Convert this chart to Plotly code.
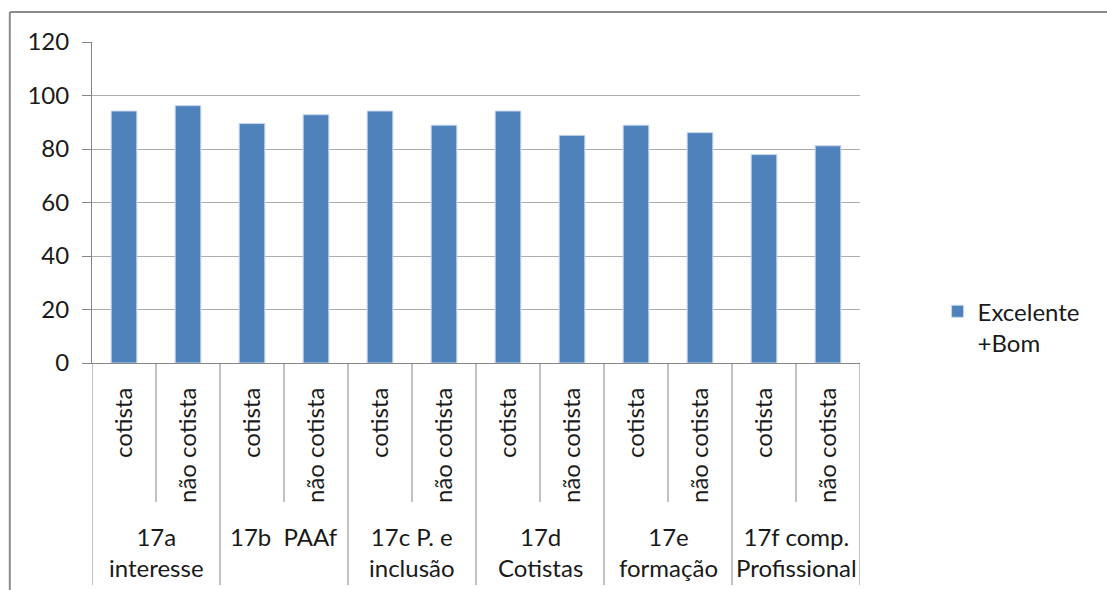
import plotly.graph_objects as go

# Question groups (two bars each: cotista / não cotista)
groups = ["17a<br>interesse", "17b  PAAf", "17c P. e<br>inclusão",
          "17d<br>Cotistas", "17e<br>formação", "17f comp.<br>Profissional"]
subgroups = ["cotista", "não cotista"]
values = [94.2, 96.2, 89.5, 92.8, 94.2, 88.9,
          94.2, 85.1, 88.9, 86.1, 77.9, 81.2]
series_name = "Excelente<br>+Bom"
y_ticks = [0, 20, 40, 60, 80, 100, 120]

n_sub = len(subgroups)
positions = list(range(len(groups) * n_sub))
tick_text = [subgroups[i % n_sub] for i in positions]

FONT = "Lato"
FS = 24
TEXT = "#1a1a1a"
AXIS = "#868686"
GRID = "#ababab"

fig = go.Figure()
fig.add_trace(go.Bar(
    x=positions, y=values, width=0.4, name=series_name,
    marker=dict(color="#4f81bd", line=dict(color="#c6d5ea", width=1)),
    showlegend=True,
))

# divider lines below the category axis
shapes = []
inner_bottom = -0.433
outer_bottom = -0.692
for g in range(len(groups)):
    shapes.append(dict(type="line", xref="x", yref="paper",
                       x0=g * n_sub + 0.5, x1=g * n_sub + 0.5,
                       y0=0, y1=inner_bottom,
                       line=dict(color=AXIS, width=1)))
for b in range(len(groups) + 1):
    xb = b * n_sub - 0.5
    shapes.append(dict(type="line", xref="x", yref="paper",
                       x0=xb, x1=xb, y0=0, y1=outer_bottom,
                       line=dict(color=AXIS, width=1)))
# chart area frame (left and top edges)
shapes.append(dict(type="line", xref="paper", yref="paper",
                   x0=-0.107, x1=1.5, y0=1.0935, y1=1.0935,
                   line=dict(color="#8c8c8c", width=2)))
shapes.append(dict(type="line", xref="paper", yref="paper",
                   x0=-0.107, x1=-0.107, y0=1.0935, y1=-0.9,
                   line=dict(color="#8c8c8c", width=2)))

annotations = []
for g, label in enumerate(groups):
    annotations.append(dict(
        x=g * n_sub + (n_sub - 1) / 2, y=-0.488, xref="x", yref="paper",
        xanchor="center", yanchor="top", showarrow=False, text=label,
        font=dict(family=FONT, size=FS, color=TEXT)))

fig.update_layout(
    width=1107, height=590,
    margin=dict(l=92, r=247, t=42, b=227),
    paper_bgcolor="white", plot_bgcolor="white",
    font=dict(family=FONT, size=FS, color=TEXT),
    bargap=0.6,
    shapes=shapes, annotations=annotations,
    legend=dict(x=1.101, y=0.23, xanchor="left", yanchor="top",
                valign="top", font=dict(family=FONT, size=FS, color=TEXT),
                bgcolor="rgba(0,0,0,0)"),
    xaxis=dict(range=[-0.5, len(positions) - 0.5],
               tickmode="array", tickvals=positions, ticktext=tick_text,
               tickangle=-90, ticks="", showgrid=False, zeroline=False,
               showline=True, linecolor=AXIS, linewidth=1,
               ticklabelstandoff=14,
               tickfont=dict(family=FONT, size=FS, color=TEXT)),
    yaxis=dict(range=[0, 120], tickmode="array", tickvals=y_ticks,
               ticks="outside", ticklen=9, tickcolor=AXIS,
               showgrid=True, gridcolor=GRID, gridwidth=1,
               zeroline=False, showline=True, linecolor=AXIS, linewidth=1,
               ticklabelstandoff=8,
               tickfont=dict(family=FONT, size=FS, color=TEXT)),
)

fig.write_html("out.html")
